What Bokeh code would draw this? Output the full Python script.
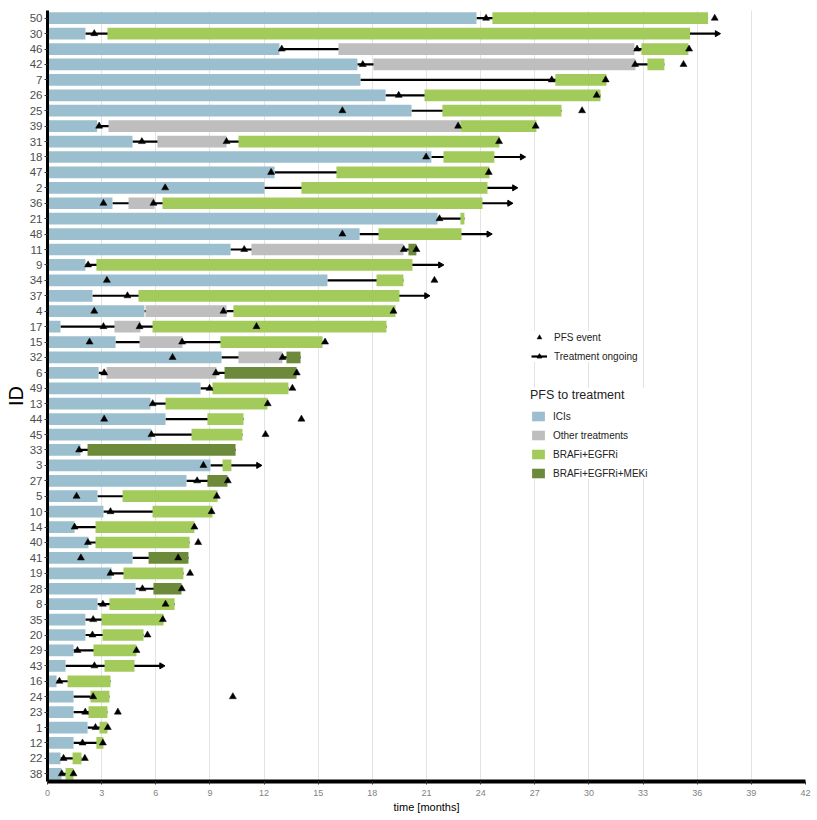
import math
from bokeh.plotting import figure
from bokeh.models import FactorRange, Range1d, FixedTicker, Legend, LegendItem
from bokeh.embed import file_html
from bokeh.resources import INLINE

# ---------------- data ----------------
ids = [50, 30, 46, 42, 7, 26, 25, 39, 31, 18, 47, 2, 36, 21, 48, 11, 9, 34, 37, 4,
       17, 15, 32, 6, 49, 13, 44, 45, 33, 3, 27, 5, 10, 14, 40, 41, 19, 28, 8, 35,
       20, 29, 43, 16, 24, 23, 1, 12, 22, 38]

# ICIs: start at 0, end values in the same order as ids
ici_end = [23.77, 2.10, 12.85, 17.17, 17.34, 18.73, 20.17, 2.75, 4.71, 21.27,
           12.58, 12.02, 3.60, 21.61, 17.29, 10.14, 2.10, 15.51, 2.49, 5.37,
           0.72, 3.77, 9.64, 2.83, 8.48, 5.71, 6.54, 5.76, 1.83, 9.03,
           7.70, 2.77, 3.10, 1.50, 2.27, 4.71, 3.55, 4.88, 2.77, 2.10,
           2.10, 1.44, 1.00, 0.50, 1.44, 1.44, 2.22, 1.44, 0.72, 0.78]

# Other treatments
oth_id = [46, 42, 39, 31, 36, 11, 4, 17, 15, 32, 6]
oth_start = [16.12, 18.06, 3.38, 6.09, 4.49, 11.30, 5.43, 3.71, 5.10, 10.58, 3.27]
oth_end = [32.52, 32.58, 22.88, 9.92, 5.93, 19.72, 9.92, 5.15, 7.48, 13.02, 9.36]

# BRAFi+EGFRi
be_id = [50, 30, 46, 42, 7, 26, 25, 39, 31, 18, 47, 2, 36, 21, 48, 9, 34, 37, 4,
         17, 15, 49, 13, 44, 45, 3, 5, 10, 14, 40, 19, 8, 35, 20, 29, 43, 16, 24,
         23, 1, 12, 22, 38]
be_start = [24.65, 3.32, 32.91, 33.24, 28.14, 20.89, 21.88, 22.88, 10.58, 21.94,
            16.01, 14.07, 6.37, 22.88, 18.34, 2.71, 18.23, 5.04, 10.30,
            5.82, 9.58, 9.14, 6.54, 8.86, 7.98, 9.70, 4.16, 5.82, 2.66, 2.66,
            4.21, 3.43, 2.99, 3.05, 2.55, 3.16, 1.11, 2.38, 2.27, 2.88, 2.71,
            1.39, 1.00]
be_end = [36.60, 35.60, 35.51, 34.18, 30.97, 30.64, 28.48, 27.09, 25.04, 24.76,
          24.49, 24.38, 24.10, 23.10, 22.94, 20.22, 19.72, 19.50, 19.28,
          18.78, 15.24, 13.35, 12.19, 10.86, 10.80, 10.19, 9.42, 9.14, 8.14, 7.87,
          7.53, 7.04, 6.43, 5.32, 4.93, 4.82, 3.49, 3.43, 3.32, 3.32, 3.10,
          1.88, 1.44]

# BRAFi+EGFRi+MEKi
bem_id = [11, 32, 6, 33, 27, 41, 28]
bem_start = [20.00, 13.24, 9.81, 2.22, 8.86, 5.60, 5.87]
bem_end = [20.44, 14.02, 13.80, 10.42, 9.97, 7.81, 7.42]

# Treatment ongoing (arrow end)
ong_id = [30, 18, 2, 36, 48, 9, 37, 3, 43]
ong_end = [37.10, 26.30, 25.87, 25.60, 24.45, 21.77, 21.00, 11.69, 6.32]

# PFS events
ev_id = [50, 50, 30, 46, 46, 46, 42, 42, 42, 7, 7, 26, 26, 25, 25, 39, 39, 39,
         31, 31, 31, 18, 47, 47, 2, 36, 36, 21, 48, 11, 11, 11, 9, 34, 34, 37,
         4, 4, 4, 17, 17, 17, 15, 15, 15, 32, 32, 6, 6, 6, 49, 49, 13, 13,
         44, 44, 45, 45, 33, 3, 27, 27, 5, 5, 10, 10, 14, 14, 40, 40, 41, 41,
         19, 19, 28, 28, 8, 8, 35, 35, 20, 20, 29, 29, 43, 16, 24, 24, 23, 23,
         1, 1, 12, 12, 22, 22, 38, 38]
ev_t = [24.30, 36.97, 2.59, 12.98, 32.67, 35.55, 17.47, 32.56, 35.24, 27.94, 30.93,
        19.46, 30.43, 16.34, 29.62, 2.86, 22.75, 27.05, 5.23, 9.92, 25.02, 20.98,
        12.39, 24.45, 6.52, 3.10, 5.87, 21.72, 16.34, 10.90, 19.74, 20.44, 2.25,
        3.29, 21.44, 4.43, 2.59, 9.75, 19.17, 3.10, 5.10, 11.58, 2.33, 7.46, 15.38,
        6.93, 13.02, 3.14, 9.33, 13.81, 8.98, 13.57, 5.83, 12.20, 3.14, 14.07,
        5.76, 12.08, 1.75, 8.64, 8.29, 9.99, 1.61, 9.38, 3.49, 9.09, 1.50, 8.14,
        2.24, 8.35, 1.85, 7.24, 3.49, 7.90, 5.26, 7.44, 3.07, 6.54, 2.53, 6.39,
        2.49, 5.54, 1.66, 4.93, 2.60, 0.66, 2.53, 10.27, 2.09, 3.90, 2.66, 3.34,
        1.94, 3.07, 0.89, 2.07, 0.79, 1.44]

x_ticks = [0, 3, 6, 9, 12, 15, 18, 21, 24, 27, 30, 33, 36, 39, 42]

# ---------------- derived ----------------
sid = [str(i) for i in ids]
line_end = {}
for i, e in zip(ids, ici_end):
    line_end[i] = e
for grp_id, grp_end in ((oth_id, oth_end), (be_id, be_end), (bem_id, bem_end), (ong_id, ong_end)):
    for i, e in zip(grp_id, grp_end):
        line_end[i] = max(line_end[i], e)

C_ICI = "#9BBFCE"
C_OTH = "#BEBEBE"
C_BE = "#A3CB5B"
C_BEM = "#6C8A3A"
FONT = "Liberation Sans"

p = figure(width=814, height=815,
           y_range=FactorRange(factors=list(reversed(sid))),
           x_range=Range1d(0, 42),
           output_backend="svg", toolbar_location=None,
           min_border_left=47, min_border_right=9, min_border_top=10, min_border_bottom=34)

# connectors
r_conn = p.segment(x0=ici_end, y0=sid, x1=[line_end[i] for i in ids], y1=sid,
                   line_color="black", line_width=2.2)

H = 0.76
r_ici = p.hbar(y=sid, left=0, right=ici_end, height=H, fill_color=C_ICI, line_color=None)
r_oth = p.hbar(y=[str(i) for i in oth_id], left=oth_start, right=oth_end, height=H,
               fill_color=C_OTH, line_color=None)
r_be = p.hbar(y=[str(i) for i in be_id], left=be_start, right=be_end, height=H,
              fill_color=C_BE, line_color=None)
r_bem = p.hbar(y=[str(i) for i in bem_id], left=bem_start, right=bem_end, height=H,
               fill_color=C_BEM, line_color=None)

# arrow heads for ongoing treatment
r_head = p.scatter(x=ong_end, y=[str(i) for i in ong_id], marker="triangle",
                   angle=-math.pi / 2, size=6, fill_color="black", line_color="black")

# PFS events
r_ev = p.scatter(x=ev_t, y=[str(i) for i in ev_id], marker="triangle", size=7,
                 fill_color="black", line_color="black", line_width=0.5)

# axes & grid
p.xaxis.ticker = FixedTicker(ticks=x_ticks)
p.xaxis.axis_label = "time [months]"
p.yaxis.axis_label = "ID"
for ax in (p.xaxis[0], p.yaxis[0]):
    ax.axis_label_text_font = FONT
    ax.axis_label_text_font_style = "normal"
    ax.axis_label_text_color = "black"
    ax.major_label_text_font = FONT
    ax.axis_line_color = "black"
    ax.major_tick_line_color = "#333333"
    ax.minor_tick_line_color = None
    ax.major_tick_in = 0
    ax.major_tick_out = 3
p.xaxis.axis_line_width = 4
p.yaxis.axis_line_width = 3
p.xaxis.axis_label_text_font_size = "11px"
p.xaxis.axis_label_standoff = 2
p.xaxis.major_label_text_font_size = "9px"
p.xaxis.major_label_text_color = "#7F7F7F"
p.xaxis.major_label_standoff = 5
p.yaxis.axis_label_text_font_size = "20px"
p.yaxis.axis_label_standoff = 0
p.yaxis.major_label_text_font_size = "11.5px"
p.yaxis.major_label_text_color = "#4D4D4D"
p.yaxis.major_label_standoff = 2

p.xgrid.grid_line_color = "#E3E3E3"
p.xgrid.grid_line_width = 1
p.ygrid.grid_line_color = None
p.outline_line_color = None
p.background_fill_color = "white"

leg_common = dict(glyph_width=16, glyph_height=12, label_height=12, spacing=7,
                  label_standoff=7, padding=8, margin=0, border_line_color=None,
                  background_fill_color="white", background_fill_alpha=1.0,
                  label_text_font=FONT, label_text_font_size="10px",
                  label_text_color="#222222")

leg1 = Legend(items=[LegendItem(label="PFS event", renderers=[r_ev]),
                     LegendItem(label="Treatment ongoing", renderers=[r_conn, r_head])],
              location=(484, 419), **leg_common)
leg2 = Legend(items=[LegendItem(label="ICIs", renderers=[r_ici]),
                     LegendItem(label="Other treatments", renderers=[r_oth]),
                     LegendItem(label="BRAFi+EGFRi", renderers=[r_be]),
                     LegendItem(label="BRAFi+EGFRi+MEKi", renderers=[r_bem])],
              title="PFS to treatment", title_text_font=FONT, title_text_font_size="12.5px",
              title_text_font_style="normal", title_text_color="#222222", title_standoff=8,
              location=(483, 302), **leg_common)
p.add_layout(leg1, "center")
p.add_layout(leg2, "center")

open("out.html", "w").write(file_html(p, INLINE))
